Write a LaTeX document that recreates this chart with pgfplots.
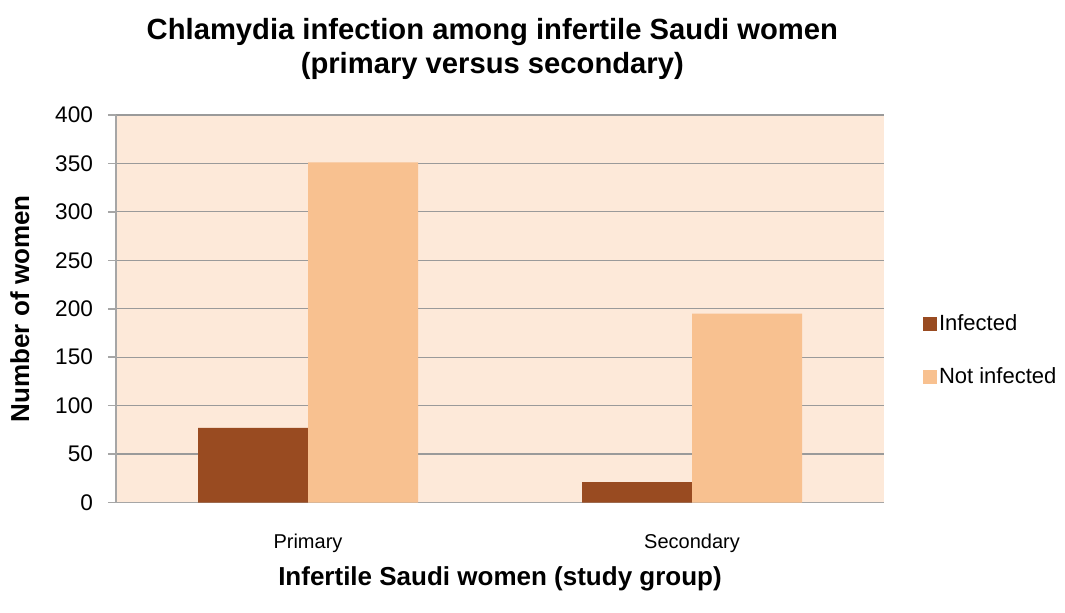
\documentclass[border=0pt]{standalone}
\usepackage{pgfplots}
\pgfplotsset{compat=1.18}
\usepackage{fontspec}
\setmainfont{Liberation Sans}
\definecolor{bgpeach}{HTML}{FDE9D9}
\definecolor{infect}{HTML}{994B21}
\definecolor{notinf}{HTML}{F8C190}
\definecolor{gridgray}{HTML}{9A9A9A}
\definecolor{axgray}{HTML}{A6A6A6}
\begin{document}
\begin{tikzpicture}
\path[use as bounding box] (-58pt,-54.75pt) rectangle (474.5pt,251.25pt);
\begin{axis}[
  scale only axis,
  width=384pt, height=193.75pt,
  at={(0,0)}, anchor=south west,
  ybar=0pt, bar width=55pt,
  xmin=-0.5, xmax=1.5,
  ymin=0, ymax=400,
  ytick={0,50,...,400},
  xtick=data, xticklabels={Primary,Secondary},
  x tick style={draw=none},
  y tick style={draw=axgray, line width=0.75pt},
  tick align=outside, major tick length=4pt,
  axis x line*=bottom, axis y line*=left,
  axis line style={draw=axgray, line width=0.9pt, -},
  ymajorgrids, major grid style={draw=gridgray, line width=0.6pt},
  axis background/.style={fill=bgpeach},
  /pgf/number format/assume math mode=true,
  yticklabel style={font=\fontsize{11.3}{13}\selectfont, xshift=-4pt},
  xticklabel style={font=\fontsize{10}{12}\selectfont, yshift=-8pt},
  xlabel={\textbf{Infertile Saudi women (study group)}},
  ylabel={\textbf{Number of women}},
  label style={font=\fontsize{13}{15}\selectfont},
  xlabel style={yshift=-0.5pt},
  ylabel style={yshift=6pt},
  legend image code/.code={\fill[#1] (0pt,-3.4pt) rectangle (6.8pt,3.4pt);},
  legend style={draw=none, fill=none, at={(1.0508,0.392)}, anchor=west,
    font=\fontsize{11}{13}\selectfont, row sep=17pt, inner sep=0pt,
    nodes={inner xsep=1pt, inner ysep=0pt}},
  legend cell align=left,
  clip=false,
]
\addplot[fill=infect, draw=none] coordinates {(0,77) (1,21)};
\addplot[fill=notinf, draw=none] coordinates {(0,351) (1,195)};
\legend{Infected, Not infected}
\node[font=\bfseries\fontsize{14.6}{17}\selectfont, anchor=base, inner sep=0pt]
  at (rel axis cs:0.49,1) [yshift=38pt] {Chlamydia infection among infertile Saudi women};
\node[font=\bfseries\fontsize{14.6}{17}\selectfont, anchor=base, inner sep=0pt]
  at (rel axis cs:0.49,1) [yshift=21pt] {(primary versus secondary)};
\end{axis}
\end{tikzpicture}
\end{document}
